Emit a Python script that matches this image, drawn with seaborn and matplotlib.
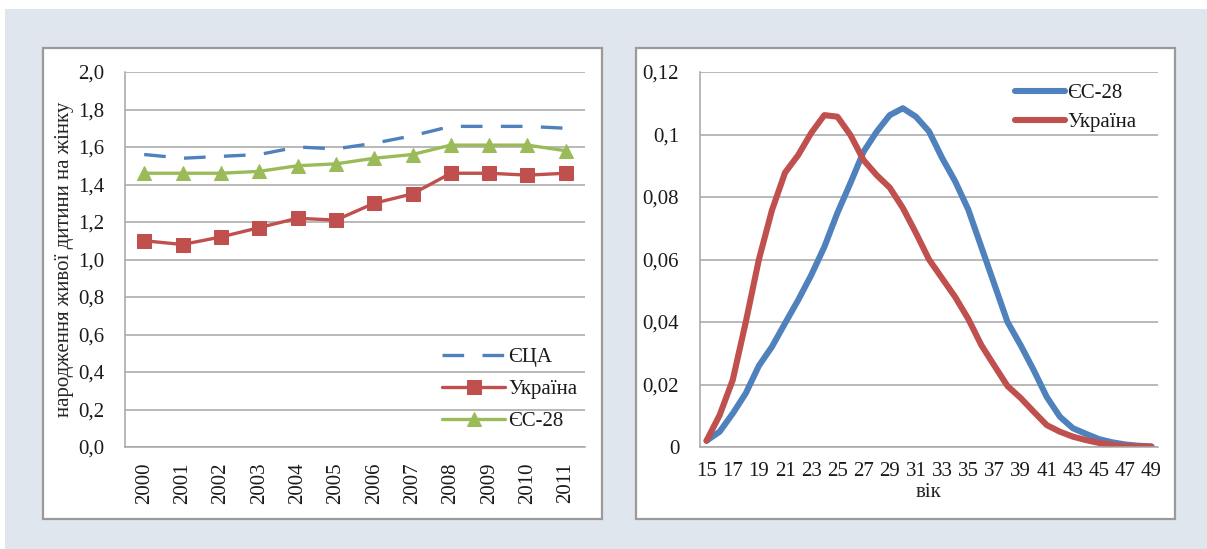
import numpy as np
import pandas as pd
import matplotlib
matplotlib.use('Agg')
import matplotlib.pyplot as plt
from matplotlib.patches import Rectangle
import seaborn as sns

# ---------- DATA ----------
years = ['2000', '2001', '2002', '2003', '2004', '2005',
         '2006', '2007', '2008', '2009', '2010', '2011']
usa_tfr = [1.56, 1.54, 1.55, 1.56, 1.60, 1.59, 1.62, 1.66, 1.71, 1.71, 1.71, 1.70]
ukr_tfr = [1.10, 1.08, 1.12, 1.17, 1.22, 1.21, 1.30, 1.35, 1.46, 1.46, 1.45, 1.46]
eu_tfr = [1.46, 1.46, 1.46, 1.47, 1.50, 1.51, 1.54, 1.56, 1.61, 1.61, 1.61, 1.58]

ages = list(range(15, 50))
eu_rate = [0.002, 0.0049, 0.0107, 0.0172, 0.026, 0.0321, 0.0396, 0.047, 0.055, 0.064,
           0.0749, 0.0845, 0.0945, 0.1009, 0.1062, 0.1084, 0.1057, 0.101, 0.0925, 0.0850,
           0.0760, 0.064, 0.052, 0.040, 0.0326, 0.0246, 0.016, 0.0097, 0.006, 0.0042,
           0.0025, 0.0015, 0.0008, 0.0004, 0.0002]
ukr_rate = [0.002, 0.0102, 0.0214, 0.040, 0.060, 0.0758, 0.0878, 0.0934, 0.1005, 0.1062,
            0.1057, 0.0998, 0.0918, 0.087, 0.083, 0.0765, 0.0685, 0.060, 0.054, 0.048,
            0.041, 0.0326, 0.026, 0.0195, 0.0157, 0.0113, 0.007, 0.0049, 0.0033, 0.0022,
            0.0013, 0.0007, 0.0003, 0.0002, 0.0001]

left_names = ['ЄЦА', 'Україна', 'ЄС-28']
right_names = ['ЄС-28', 'Україна']

# ---------- STYLE ----------
sns.set_style('white')
plt.rcParams['font.family'] = ['Liberation Serif', 'DejaVu Serif']
plt.rcParams['text.color'] = '#1a1a1a'
plt.rcParams['xtick.color'] = '#1a1a1a'
plt.rcParams['ytick.color'] = '#1a1a1a'

BLUE = '#4F81BD'
RED = '#C0504D'
GREEN = '#9BBB59'
GRID = '#A6A6A6'
FS = 15

W, H = 1207, 549
fig = plt.figure(figsize=(W / 100, H / 100), dpi=100, facecolor='white')


def box(x0, y0, x1, y1):
    # pixel box (top-left origin) -> figure fraction
    return [x0 / W, 1 - y1 / H, (x1 - x0) / W, (y1 - y0) / H]


# page background and the two white panels
fig.patches.append(Rectangle((5 / W, 0), 1, (H - 9) / H, transform=fig.transFigure,
                             facecolor='#E0E6ED', edgecolor='none', zorder=-3))
for x0, x1 in [(43, 602), (636, 1175)]:
    b = box(x0, 48, x1, 519)
    fig.patches.append(Rectangle((b[0], b[1]), b[2], b[3], transform=fig.transFigure,
                                 facecolor='white', edgecolor='#9A9A9A', lw=1.6, zorder=-2))


def style_axes(ax):
    ax.set_facecolor('none')
    for s in ['top', 'right']:
        ax.spines[s].set_visible(False)
    for s in ['left', 'bottom']:
        ax.spines[s].set_color(GRID)
        ax.spines[s].set_linewidth(1.1)
    ax.yaxis.grid(True, color=GRID, lw=1.1)
    ax.xaxis.grid(False)
    ax.set_axisbelow(True)
    ax.tick_params(axis='y', length=6, width=1.1, color=GRID, pad=9, labelsize=FS)
    ax.tick_params(axis='x', which='major', length=0, labelsize=FS)
    ax.tick_params(axis='x', which='minor', length=6, width=1.1, color=GRID)


# ---------- LEFT: total fertility rate ----------
ax1 = fig.add_axes(box(125, 72, 585, 447))
pos = list(range(len(years)))
sns.lineplot(x=pos, y=usa_tfr, ax=ax1, color=BLUE, lw=2.4, linestyle=(0, (6.5, 5.5)),
             label=left_names[0], errorbar=None)
sns.lineplot(x=pos, y=ukr_tfr, ax=ax1, color=RED, lw=2.4, marker='s', markersize=9.5,
             markeredgecolor=RED, label=left_names[1], errorbar=None)
sns.lineplot(x=pos, y=eu_tfr, ax=ax1, color=GREEN, lw=2.4, marker='^', markersize=10.5,
             markeredgecolor=GREEN, label=left_names[2], errorbar=None)
style_axes(ax1)
ax1.set_xlim(-0.5, len(years) - 0.5)
ax1.set_ylim(0, 2.0)
yt = np.arange(0, 2.01, 0.2)
ax1.set_yticks(yt)
ax1.set_yticklabels([f'{v:.1f}'.replace('.', ',') for v in yt])
ax1.set_xticks(pos)
ax1.set_xticklabels(years, rotation=90, va='top')
ax1.set_xticks(np.arange(-0.5, len(years), 1), minor=True)
ax1.tick_params(axis='x', which='major', pad=11)
ax1.set_xlabel('')
ax1.set_ylabel('народження живої дитини на жінку', fontsize=FS, labelpad=3)
ax1.legend(loc='upper left', bbox_to_anchor=(432 / W, 1 - 337 / H),
           bbox_transform=fig.transFigure, frameon=False, fontsize=FS,
           handlelength=3.0, handletextpad=0.15, labelspacing=0.6, borderpad=0)

# ---------- RIGHT: age-specific fertility ----------
ax2 = fig.add_axes(box(700, 72, 1158, 447))
apos = list(range(len(ages)))
sns.lineplot(x=apos, y=eu_rate, ax=ax2, color=BLUE, lw=4.4, label=right_names[0],
             errorbar=None, solid_capstyle='round')
sns.lineplot(x=apos, y=ukr_rate, ax=ax2, color=RED, lw=4.4, label=right_names[1],
             errorbar=None, solid_capstyle='round')
style_axes(ax2)
ax2.set_xlim(-0.5, len(ages) - 0.5)
ax2.set_ylim(0, 0.12)
yt2 = np.arange(0, 0.121, 0.02)
ax2.set_yticks(yt2)
ax2.set_yticklabels([('%g' % round(v, 2)).replace('.', ',') for v in yt2])
ax2.set_xticks(apos[::2])
ax2.set_xticklabels([str(a) for a in ages[::2]])
ax2.set_xticks(np.arange(-0.5, len(ages), 1), minor=True)
ax2.tick_params(axis='x', which='major', pad=11)
ax2.set_xlabel('вік', fontsize=FS, labelpad=1)
ax2.set_ylabel('')
ax2.legend(loc='upper left', bbox_to_anchor=(1005 / W, 1 - 73 / H),
           bbox_transform=fig.transFigure, frameon=False, fontsize=FS,
           handlelength=2.4, handletextpad=0.1, labelspacing=0.45, borderpad=0)

fig.savefig('out.png', dpi=100, facecolor='white')
